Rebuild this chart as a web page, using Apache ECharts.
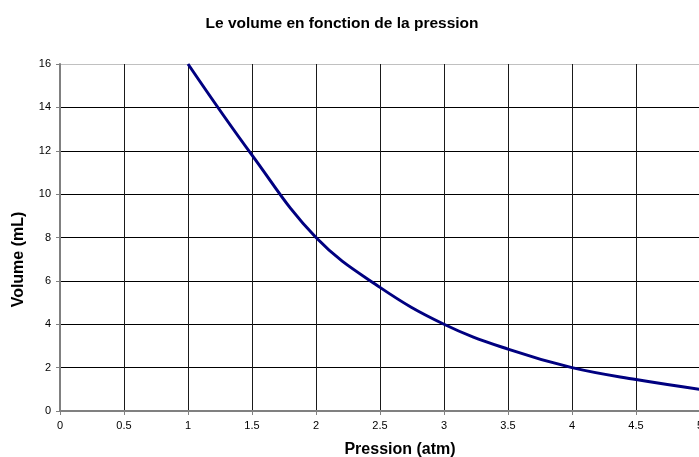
<!DOCTYPE html>
<html>
<head>
<meta charset="utf-8">
<script src="https://cdn.jsdelivr.net/npm/echarts@6/dist/echarts.min.js"></script>
<style>
  html, body { margin: 0; padding: 0; background: #fff; }
  #chart { width: 699px; height: 457px; }
</style>
</head>
<body>
<div id="chart"></div>
<script>
// pression (atm) / volume (mL)
const pression = [1, 1.5, 2, 2.5, 3, 3.5, 4, 4.5, 5]
const volume = [16, 11.8, 8, 5.7, 4, 2.85, 2, 1.45, 1]

const myChart = echarts.init(document.getElementById('chart'))

// la ligne du haut (16) est grise, les autres noires
const yGridColors = ['#000', '#000', '#000', '#000', '#000', '#000', '#000', '#000', '#c0c0c0']

const option = {
  backgroundColor: '#fff',
  animation: false,
  title: {
    text: 'Le volume en fonction de la pression',
    left: 337,
    textAlign: 'center',
    top: 11,
    textStyle: {
      fontFamily: 'Liberation Sans',
      fontSize: 15.5,
      fontWeight: 'bold',
      color: '#000',
    },
  },
  grid: {
    left: 60,
    top: 64,
    width: 640,
    height: 347,
    containLabel: false,
    outerBoundsMode: 'none',
  },
  xAxis: {
    type: 'value',
    min: 0,
    max: 5,
    interval: 0.5,
    name: 'Pression (atm)',
    nameLocation: 'middle',
    nameGap: 31,
    nameTextStyle: {
      fontFamily: 'Liberation Sans',
      fontSize: 16,
      fontWeight: 'bold',
      color: '#000',
      padding: [0, 0, 0, 40],
    },
    axisLine: { show: true, lineStyle: { color: '#808080', width: 2 } },
    axisTick: { show: true, length: 4, lineStyle: { color: '#808080' } },
    axisLabel: {
      fontFamily: 'Liberation Sans',
      fontSize: 11,
      color: '#000',
      margin: 9,
    },
    splitLine: { show: true, lineStyle: { color: '#1a1a1a', width: 1 } },
  },
  yAxis: {
    type: 'value',
    min: 0,
    max: 16,
    interval: 2,
    name: 'Volume (mL)',
    nameLocation: 'middle',
    nameGap: 33,
    nameTextStyle: {
      fontFamily: 'Liberation Sans',
      fontSize: 16,
      fontWeight: 'bold',
      color: '#000',
      padding: [0, 44, 0, 0],
    },
    axisLine: { show: true, lineStyle: { color: '#808080', width: 2 } },
    axisTick: { show: true, length: 4, lineStyle: { color: '#808080' } },
    axisLabel: {
      fontFamily: 'Liberation Sans',
      fontSize: 11,
      color: '#000',
      margin: 9,
    },
    splitLine: { show: true, lineStyle: { color: yGridColors, width: 1 } },
  },
  series: [
    {
      type: 'line',
      data: pression.map((p, i) => [p, volume[i]]),
      smooth: 0.4,
      symbol: 'none',
      lineStyle: { color: '#000080', width: 3 },
    },
  ],
}

myChart.setOption(option)
</script>
</body>
</html>
